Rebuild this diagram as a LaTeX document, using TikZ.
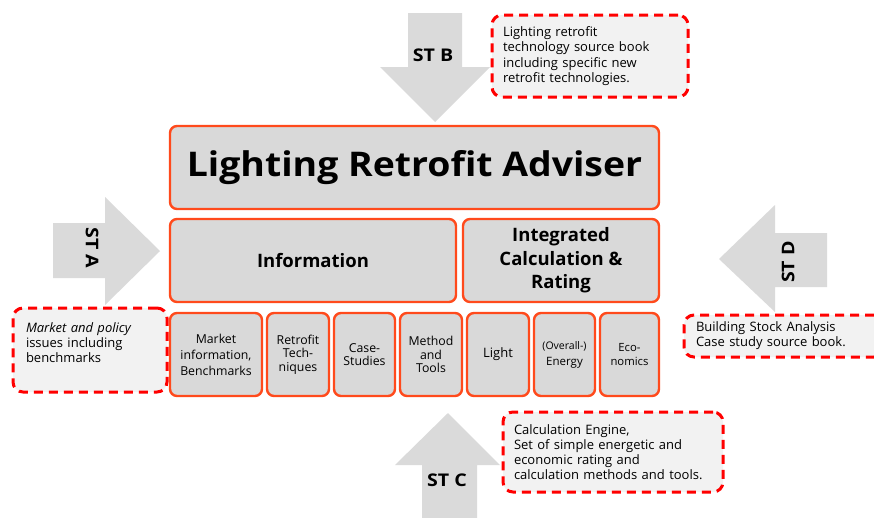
\documentclass[tikz,border=0pt]{standalone}
\usepackage{fontspec}
\setmainfont{Open Sans}
\definecolor{boxorange}{HTML}{FF4A1C}
\definecolor{boxgray}{HTML}{D9D9D9}
\definecolor{arrowgray}{HTML}{DADADA}
\definecolor{calloutfill}{HTML}{F2F2F2}
\definecolor{calloutred}{HTML}{FF0000}
\tikzset{
  mainbox/.style={draw=boxorange, fill=boxgray, line width=2.4pt, rounded corners=7pt,
    inner sep=2pt, align=center, minimum height=83pt},
  subbox/.style={draw=boxorange, fill=boxgray, line width=2.4pt, rounded corners=7pt,
    inner sep=1pt, align=center, minimum height=83pt, font=\fontsize{12.3}{13.5}\selectfont},
  callout/.style={draw=calloutred, fill=calloutfill, line width=3pt, dash pattern=on 9pt off 6pt,
    rounded corners=10pt, align=left, font=\fontsize{13}{15.2}\selectfont},
  stlabel/.style={font=\fontsize{17.5}{20}\selectfont\bfseries, inner sep=0pt},
  bigarrow/.style={fill=arrowgray, draw=none}
}
\newcommand{\stwide}[1]{\scalebox{1.12}[1]{#1}}
\begin{document}
\begin{tikzpicture}[x=1pt,y=-1pt]
\clip (0,0) rectangle (874,517);
\fill[white] (0,0) rectangle (874,517);

% big arrows
\fill[bigarrow] (408,13) -- (462,13) -- (462,67) -- (490,67) -- (435,122) -- (380,67) -- (408,67) -- cycle;
\fill[bigarrow] (53,223) -- (105,223) -- (105,197) -- (160,251) -- (105,305) -- (105,278) -- (53,278) -- cycle;
\fill[bigarrow] (827,233) -- (775,233) -- (775,205) -- (719,259) -- (775,312) -- (775,287) -- (827,287) -- cycle;
\fill[bigarrow] (422,520) -- (422,465) -- (395,465) -- (448,413) -- (500,465) -- (477,465) -- (477,520) -- cycle;

\node[stlabel] (stb) at (433,55) {\stwide{ST B}};
\node[stlabel, rotate=-90] (sta) at (92,248) {\stwide{ST A}};
\node[stlabel, rotate=90] (std) at (788,262) {\stwide{ST D}};
\node[stlabel] (stc) at (447,480) {\stwide{ST C}};

% main boxes
\node[mainbox, minimum width=489pt, font=\fontsize{34}{40}\selectfont\bfseries] (lra) at (414.5,167.5) {\scalebox{1.1}[1]{Lighting Retrofit Adviser}};
\node[mainbox, minimum width=286pt, font=\fontsize{18.5}{22}\selectfont\bfseries] (info) at (313,260.5) {Information};
\node[mainbox, minimum width=196pt, font=\fontsize{18.5}{23.5}\selectfont\bfseries] (icr) at (561,260.5) {Integrated\\Calculation \&\\Rating};

% sub boxes
\node[subbox, minimum width=92pt, font=\fontsize{12.3}{16}\selectfont] (m1) at (216,354.5) {Market\\information,\\Benchmarks};
\node[subbox, minimum width=62pt] (m2) at (298,354.5) {Retrofit\\Tech-\\niques};
\node[subbox, minimum width=61pt] (m3) at (364.5,354.5) {Case-\\Studies};
\node[subbox, minimum width=62pt] (m4) at (431,354.5) {Method\\and\\Tools};
\node[subbox, minimum width=62pt, font=\fontsize{13}{15}\selectfont] (m5) at (498,354.5) {Light};
\node[subbox, minimum width=61pt, font=\fontsize{10.5}{16}\selectfont] (m6) at (564.5,354.5) {(Overall-)\\{\fontsize{11.5}{13}\selectfont Energy}};
\node[subbox, minimum width=59pt, font=\fontsize{11.3}{14}\selectfont] (m7) at (629.5,354.5) {Eco-\\nomics};

% callouts
\node[callout, minimum width=196pt, minimum height=82pt, text width=174pt, inner xsep=11pt] (cb) at (590,56)
  {Lighting retrofit\\technology source book\\including specific new\\retrofit technologies.};
\node[callout, minimum width=154pt, minimum height=84pt, text width=128pt, inner xsep=13pt] (ca) at (90,350)
  {\textit{Market and policy}\\issues including\\benchmarks\\\mbox{}};
\node[callout, minimum width=220pt, minimum height=80pt, text width=198pt, inner xsep=11pt] (cc) at (613,452)
  {Calculation Engine,\\Set of simple energetic and\\economic rating and\\calculation methods and tools.};
\node[callout, minimum width=200pt, minimum height=42pt, text width=176pt, inner xsep=12pt] (cd) at (784,336)
  {Building Stock Analysis\\Case study source book.};
\end{tikzpicture}
\end{document}
